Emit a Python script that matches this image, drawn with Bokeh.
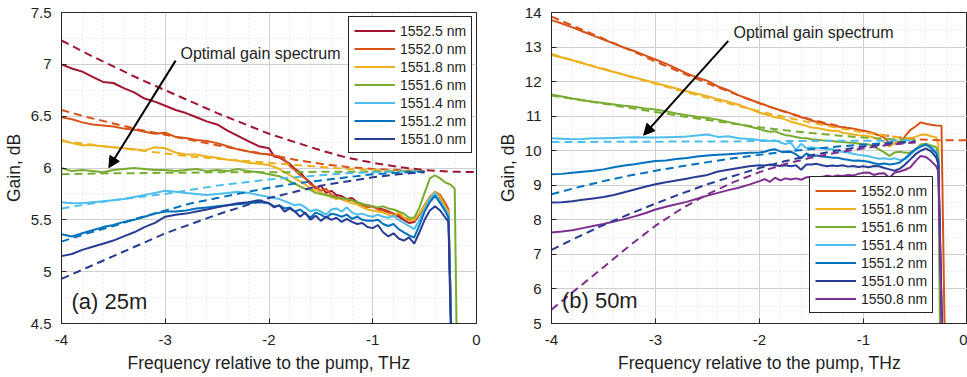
from bokeh.plotting import figure
from bokeh.layouts import row
from bokeh.models import (Range1d, Legend, LegendItem, Arrow, NormalHead, Label,
                          SingleIntervalTicker, CustomJSTickFormatter)
from bokeh.embed import file_html
from bokeh.resources import INLINE

# ---------------- data ----------------
FREQ = [-4.0, -3.9, -3.8, -3.7, -3.6, -3.5, -3.4, -3.3, -3.2, -3.1,
        -3.0, -2.9, -2.8, -2.7, -2.6, -2.5, -2.4, -2.3, -2.2, -2.1,
        -2.0, -1.95, -1.9, -1.85, -1.8, -1.75, -1.7, -1.65, -1.6, -1.55,
        -1.5, -1.45, -1.4, -1.35, -1.3, -1.25, -1.2, -1.15, -1.1, -1.05,
        -1.0, -0.95, -0.9, -0.85, -0.8, -0.75, -0.7, -0.65, -0.6, -0.55,
        -0.5, -0.45, -0.4, -0.35, -0.3]
FREQ_FIT = [-4.0, -3.75, -3.5, -3.25, -3.0, -2.75, -2.5, -2.25, -2.0, -1.75,
            -1.5, -1.25, -1.0, -0.75, -0.5]
FREQ_FIT_EXT = [-0.25, 0.0]

LABELS_A = ["1552.5 nm", "1552.0 nm", "1551.8 nm", "1551.6 nm", "1551.4 nm", "1551.2 nm", "1551.0 nm"]
LABELS_B = ["1552.0 nm", "1551.8 nm", "1551.6 nm", "1551.4 nm", "1551.2 nm", "1551.0 nm", "1550.8 nm"]

# (a) 25 m measured gain, dB
a_1552_5 = [7.00, 6.96, 6.93, 6.88, 6.83, 6.82, 6.77, 6.73, 6.67, 6.64, 6.60, 6.56, 6.53, 6.49, 6.45, 6.42, 6.36, 6.31, 6.26, 6.21,
            6.19, 6.11, 6.10, 6.07, 6.04, 5.99, 5.96, 5.90, 5.86, 5.80, 5.83, 5.76, 5.78, 5.74, 5.73, 5.70, 5.71, 5.67, 5.65, 5.64,
            5.63, 5.61, 5.60, 5.58, 5.56, 5.53, 5.50, 5.47, 5.48, 5.55, 5.62, 5.70, 5.74, 5.70, 5.62]
a_1552_0 = [6.49, 6.47, 6.44, 6.42, 6.41, 6.40, 6.38, 6.37, 6.35, 6.33, 6.34, 6.30, 6.29, 6.27, 6.26, 6.24, 6.21, 6.18, 6.16, 6.14,
            6.13, 6.12, 6.11, 6.08, 6.02, 5.98, 5.93, 5.90, 5.84, 5.82, 5.78, 5.80, 5.74, 5.72, 5.70, 5.68, 5.69, 5.66, 5.64, 5.62,
            5.63, 5.60, 5.59, 5.57, 5.56, 5.55, 5.52, 5.50, 5.49, 5.56, 5.64, 5.72, 5.77, 5.74, 5.66]
a_1551_8 = [6.27, 6.24, 6.22, 6.22, 6.21, 6.20, 6.19, 6.18, 6.17, 6.20, 6.19, 6.15, 6.13, 6.13, 6.11, 6.10, 6.08, 6.07, 6.05, 6.04,
            6.03, 6.01, 5.99, 5.96, 5.93, 5.90, 5.87, 5.84, 5.80, 5.79, 5.76, 5.74, 5.72, 5.70, 5.71, 5.68, 5.66, 5.65, 5.62, 5.60,
            5.59, 5.58, 5.57, 5.55, 5.53, 5.58, 5.52, 5.49, 5.50, 5.56, 5.63, 5.71, 5.77, 5.72, 5.62]
a_1551_6 = [6.00, 5.97, 5.98, 5.97, 5.96, 5.98, 5.99, 6.00, 5.99, 5.98, 5.98, 5.97, 5.98, 5.99, 5.97, 5.98, 5.97, 5.99, 5.97, 5.96,
            5.94, 5.93, 5.92, 5.90, 5.87, 5.85, 5.82, 5.80, 5.79, 5.76, 5.75, 5.74, 5.73, 5.71, 5.71, 5.70, 5.69, 5.67, 5.65, 5.64,
            5.63, 5.62, 5.63, 5.61, 5.60, 5.58, 5.56, 5.52, 5.52, 5.62, 5.76, 5.90, 5.93, 5.90, 5.86]
a_1551_4 = [5.67, 5.66, 5.66, 5.67, 5.68, 5.69, 5.70, 5.72, 5.74, 5.76, 5.78, 5.77, 5.76, 5.75, 5.74, 5.75, 5.76, 5.77, 5.76, 5.74,
            5.72, 5.71, 5.70, 5.68, 5.66, 5.64, 5.65, 5.62, 5.58, 5.60, 5.58, 5.55, 5.60, 5.61, 5.58, 5.62, 5.57, 5.55, 5.56, 5.54,
            5.53, 5.55, 5.53, 5.52, 5.54, 5.50, 5.47, 5.44, 5.41, 5.50, 5.60, 5.70, 5.76, 5.68, 5.60]
a_1551_2 = [5.36, 5.34, 5.37, 5.40, 5.43, 5.45, 5.48, 5.50, 5.53, 5.56, 5.58, 5.58, 5.59, 5.61, 5.62, 5.63, 5.64, 5.65, 5.66, 5.67,
            5.66, 5.63, 5.64, 5.61, 5.62, 5.58, 5.60, 5.56, 5.52, 5.57, 5.55, 5.52, 5.56, 5.55, 5.53, 5.55, 5.51, 5.53, 5.50, 5.49,
            5.49, 5.50, 5.46, 5.44, 5.46, 5.41, 5.38, 5.35, 5.33, 5.45, 5.58, 5.67, 5.73, 5.66, 5.58]
a_1551_0 = [5.15, 5.17, 5.21, 5.24, 5.27, 5.30, 5.34, 5.38, 5.43, 5.47, 5.53, 5.55, 5.56, 5.58, 5.60, 5.62, 5.64, 5.66, 5.67, 5.69,
            5.66, 5.62, 5.64, 5.58, 5.61, 5.58, 5.53, 5.57, 5.50, 5.54, 5.49, 5.53, 5.50, 5.52, 5.48, 5.51, 5.48, 5.46, 5.47, 5.43,
            5.42, 5.45, 5.38, 5.34, 5.37, 5.32, 5.30, 5.33, 5.27, 5.38, 5.50, 5.59, 5.63, 5.59, 5.52]
# cut-off near the pump (frequency, gain)
a_tail_x = [[-0.27, -0.24], [-0.27, -0.24], [-0.27, -0.24], [-0.25, -0.21, -0.19],
            [-0.27, -0.24], [-0.27, -0.24], [-0.27, -0.245]]
a_tail_y = [[5.55, 4.3], [5.60, 4.3], [5.58, 4.3], [5.84, 5.80, 4.3],
            [5.55, 4.3], [5.52, 4.3], [5.48, 4.3]]

# (a) 25 m optimal (fitted) gain spectra, dB
a_fit_1552_5 = [7.23, 7.10, 6.98, 6.86, 6.75, 6.64, 6.53, 6.43, 6.33, 6.25, 6.17, 6.10, 6.05, 6.01, 5.98, 5.965, 5.96]
a_fit_1552_0 = [6.56, 6.49, 6.43, 6.37, 6.32, 6.27, 6.22, 6.17, 6.13, 6.08, 6.04, 6.01, 5.99, 5.98, 5.97]
a_fit_1551_8 = [6.26, 6.23, 6.20, 6.17, 6.14, 6.11, 6.09, 6.07, 6.05, 6.03, 6.01, 5.99, 5.98, 5.97, 5.97]
a_fit_1551_6 = [5.94, 5.945, 5.95, 5.95, 5.955, 5.955, 5.96, 5.96, 5.96, 5.96, 5.965, 5.965, 5.965, 5.97, 5.97]
a_fit_1551_4 = [5.61, 5.65, 5.69, 5.72, 5.75, 5.79, 5.83, 5.86, 5.89, 5.91, 5.93, 5.95, 5.96, 5.965, 5.97]
a_fit_1551_2 = [5.29, 5.37, 5.44, 5.52, 5.59, 5.66, 5.71, 5.76, 5.81, 5.85, 5.88, 5.91, 5.94, 5.955, 5.965]
a_fit_1551_0 = [4.93, 5.04, 5.15, 5.26, 5.37, 5.46, 5.55, 5.63, 5.71, 5.77, 5.83, 5.87, 5.91, 5.94, 5.96]

# (b) 50 m measured gain, dB
b_1552_0 = [13.78, 13.68, 13.57, 13.45, 13.33, 13.22, 13.10, 12.98, 12.88, 12.76, 12.64, 12.52, 12.38, 12.24, 12.12, 12.02, 11.86, 11.75, 11.60, 11.49,
            11.38, 11.33, 11.27, 11.22, 11.17, 11.13, 11.08, 11.02, 10.97, 10.93, 10.87, 10.84, 10.80, 10.76, 10.72, 10.70, 10.68, 10.66, 10.64, 10.61,
            10.58, 10.55, 10.49, 10.45, 10.38, 10.22, 10.32, 10.20, 10.42, 10.60, 10.70, 10.82, 10.78, 10.75, 10.73]
b_1551_8 = [12.77, 12.70, 12.62, 12.53, 12.44, 12.36, 12.28, 12.20, 12.12, 12.04, 11.96, 11.88, 11.80, 11.72, 11.65, 11.58, 11.49, 11.42, 11.33, 11.22,
            11.10, 11.06, 11.01, 10.97, 10.95, 10.90, 10.84, 10.80, 10.76, 10.72, 10.67, 10.66, 10.63, 10.60, 10.57, 10.58, 10.52, 10.50, 10.47, 10.45,
            10.44, 10.42, 10.38, 10.33, 10.25, 10.12, 10.22, 10.28, 10.30, 10.36, 10.40, 10.46, 10.47, 10.42, 10.38]
b_1551_6 = [11.63, 11.57, 11.51, 11.46, 11.42, 11.38, 11.34, 11.30, 11.27, 11.22, 11.19, 11.14, 11.08, 11.03, 10.98, 10.95, 10.90, 10.83, 10.77, 10.70,
            10.63, 10.58, 10.55, 10.56, 10.50, 10.45, 10.43, 10.40, 10.37, 10.36, 10.33, 10.32, 10.30, 10.29, 10.28, 10.26, 10.25, 10.24, 10.23, 10.21,
            10.19, 10.18, 10.12, 10.04, 9.95, 9.85, 9.95, 9.97, 9.94, 9.95, 10.02, 10.18, 10.20, 10.15, 10.10]
b_1551_4 = [10.36, 10.35, 10.33, 10.34, 10.36, 10.36, 10.37, 10.38, 10.39, 10.38, 10.38, 10.39, 10.40, 10.41, 10.44, 10.47, 10.40, 10.42, 10.36, 10.34,
            10.31, 10.30, 10.28, 10.30, 10.24, 10.19, 10.24, 10.02, 10.20, 10.08, 10.10, 10.07, 10.08, 10.04, 10.05, 10.00, 9.96, 9.95, 9.91, 9.88,
            9.86, 9.84, 9.80, 9.77, 9.78, 9.75, 9.78, 9.73, 9.75, 9.88, 10.02, 10.12, 10.18, 10.10, 9.98]
b_1551_2 = [9.32, 9.33, 9.36, 9.39, 9.42, 9.46, 9.52, 9.57, 9.61, 9.66, 9.70, 9.72, 9.76, 9.79, 9.83, 9.86, 9.88, 9.90, 9.92, 9.94,
            9.95, 9.97, 10.02, 10.04, 9.98, 9.96, 9.97, 9.90, 9.78, 9.92, 9.85, 9.86, 9.83, 9.82, 9.80, 9.80, 9.76, 9.74, 9.71, 9.72,
            9.70, 9.68, 9.64, 9.61, 9.63, 9.60, 9.62, 9.66, 9.78, 9.92, 10.05, 10.12, 10.18, 10.08, 9.92]
b_1551_0 = [8.50, 8.51, 8.54, 8.58, 8.62, 8.66, 8.72, 8.80, 8.88, 8.96, 9.03, 9.09, 9.14, 9.19, 9.25, 9.30, 9.40, 9.45, 9.50, 9.55,
            9.58, 9.57, 9.60, 9.58, 9.56, 9.58, 9.55, 9.58, 9.45, 9.60, 9.60, 9.62, 9.58, 9.55, 9.57, 9.56, 9.58, 9.54, 9.56, 9.53,
            9.55, 9.52, 9.56, 9.55, 9.50, 9.46, 9.42, 9.48, 9.60, 9.75, 9.90, 10.00, 10.07, 9.98, 9.80]
b_1550_8 = [7.63, 7.66, 7.70, 7.76, 7.82, 7.88, 7.95, 8.02, 8.10, 8.19, 8.30, 8.38, 8.45, 8.52, 8.61, 8.70, 8.78, 8.86, 8.93, 9.02,
            9.12, 9.18, 9.10, 9.22, 9.14, 9.20, 9.17, 9.20, 9.16, 9.23, 9.23, 9.18, 9.24, 9.28, 9.25, 9.28, 9.27, 9.30, 9.28, 9.33,
            9.36, 9.37, 9.30, 9.34, 9.35, 9.22, 9.37, 9.40, 9.45, 9.52, 9.70, 9.85, 9.82, 9.70, 9.55]
b_tail_x = [[-0.25, -0.22], [-0.28, -0.26], [-0.28, -0.265], [-0.28, -0.25],
            [-0.28, -0.245], [-0.28, -0.245], [-0.28, -0.245]]
b_tail_y = [[10.72, 4.8], [10.15, 4.8], [9.90, 4.8], [9.75, 4.8],
            [9.70, 4.8], [9.60, 4.8], [9.40, 4.8]]

# (b) 50 m optimal (fitted) gain spectra, dB
b_fit_1552_0 = [13.88, 13.56, 13.24, 12.92, 12.58, 12.26, 11.95, 11.66, 11.37, 11.12, 10.90, 10.72, 10.56, 10.42, 10.33, 10.30, 10.30]
b_fit_1551_8 = [12.80, 12.58, 12.37, 12.15, 11.94, 11.73, 11.53, 11.33, 11.14, 10.97, 10.81, 10.66, 10.53, 10.42, 10.34]
b_fit_1551_6 = [11.60, 11.48, 11.36, 11.24, 11.12, 11.00, 10.89, 10.78, 10.68, 10.59, 10.51, 10.44, 10.38, 10.34, 10.31]
b_fit_1551_4 = [10.25, 10.25, 10.26, 10.26, 10.26, 10.27, 10.27, 10.27, 10.28, 10.28, 10.28, 10.29, 10.29, 10.29, 10.30]
b_fit_1551_2 = [8.74, 8.94, 9.12, 9.28, 9.42, 9.55, 9.67, 9.78, 9.88, 9.97, 10.05, 10.12, 10.18, 10.23, 10.27]
b_fit_1551_0 = [7.13, 7.50, 7.85, 8.17, 8.47, 8.76, 9.03, 9.27, 9.50, 9.70, 9.87, 10.01, 10.12, 10.20, 10.26]
b_fit_1550_8 = [5.40, 6.02, 6.63, 7.25, 7.83, 8.32, 8.74, 9.09, 9.38, 9.62, 9.80, 9.95, 10.07, 10.17, 10.24]

COLORS_A = ["#A2142F", "#D95319", "#EDB120", "#77AC30", "#4DBEEE", "#0072BD", "#283C96"]
COLORS_B = ["#D95319", "#EDB120", "#77AC30", "#4DBEEE", "#0072BD", "#283C96", "#7E2F8E"]

A_MEAS = [a_1552_5, a_1552_0, a_1551_8, a_1551_6, a_1551_4, a_1551_2, a_1551_0]
A_FIT = [a_fit_1552_5, a_fit_1552_0, a_fit_1551_8, a_fit_1551_6, a_fit_1551_4, a_fit_1551_2, a_fit_1551_0]
B_MEAS = [b_1552_0, b_1551_8, b_1551_6, b_1551_4, b_1551_2, b_1551_0, b_1550_8]
B_FIT = [b_fit_1552_0, b_fit_1551_8, b_fit_1551_6, b_fit_1551_4, b_fit_1551_2, b_fit_1551_0, b_fit_1550_8]

FONT = "Liberation Sans"
TXT = "#1e1e1e"
AX = "#262626"


def make_fig(width, bl, br, bt, y0, y1, yint, yminor):
    p = figure(width=width, height=377, output_backend="svg", toolbar_location=None,
               x_range=Range1d(-4, 0), y_range=Range1d(y0, y1),
               min_border_left=bl, min_border_right=br, min_border_top=bt,
               min_border_bottom=54, background_fill_color="white",
               border_fill_color="white")
    p.xaxis.ticker = SingleIntervalTicker(interval=1, num_minor_ticks=5)
    p.yaxis.ticker = SingleIntervalTicker(interval=yint, num_minor_ticks=yminor)
    fmt = "return (Math.round(tick*100)/100).toString();"
    for ax in (p.xaxis[0], p.yaxis[0]):
        ax.formatter = CustomJSTickFormatter(code=fmt)
        ax.major_tick_in = 5
        ax.major_tick_out = 0
        ax.minor_tick_line_color = None
        ax.axis_line_color = AX
        ax.major_tick_line_color = AX
        ax.major_label_text_font = FONT
        ax.major_label_text_font_size = "15px"
        ax.major_label_text_color = TXT
        ax.axis_label_text_font = FONT
        ax.axis_label_text_font_size = "17.5px"
        ax.axis_label_text_font_style = "normal"
        ax.axis_label_text_color = TXT
    p.xaxis.axis_label = "Frequency relative to the pump, THz"
    p.yaxis.axis_label = "Gain, dB"
    p.xaxis.major_label_standoff = 7
    p.xaxis.axis_label_standoff = 5
    p.yaxis.major_label_standoff = 6
    p.yaxis.axis_label_standoff = 4
    for g in (p.xgrid[0], p.ygrid[0]):
        g.grid_line_color = "#cfcfcf"
        g.grid_line_width = 1
        g.minor_grid_line_color = "#d6d6d6"
        g.minor_grid_line_dash = "1 3"
    p.outline_line_color = AX
    p.outline_line_alpha = 1
    return p


def draw(p, meas, fits, tails_x, tails_y, colors, labels, ext_index, loc):
    items = []
    for i, (ys, col, lab) in enumerate(zip(meas, colors, labels)):
        assert len(ys) == len(FREQ), (lab, len(ys))
        r = p.line(FREQ + tails_x[i], ys + tails_y[i], line_color=col, line_width=2)
        items.append(LegendItem(label=lab, renderers=[r]))
    for i, (ys, col) in enumerate(zip(fits, colors)):
        xs = FREQ_FIT + (FREQ_FIT_EXT if i == ext_index else [])
        assert len(xs) == len(ys), (i, len(ys))
        p.line(xs, ys, line_color=col, line_width=2, line_dash="8 5")
    leg = Legend(items=items, location=loc, label_text_font=FONT,
                 label_text_font_size="14px", label_text_color=TXT,
                 glyph_width=41, glyph_height=17, label_height=17, spacing=1,
                 padding=5, margin=0, label_standoff=5,
                 border_line_color=AX, border_line_width=1, border_line_alpha=1,
                 background_fill_color="white", background_fill_alpha=1)
    p.add_layout(leg)


# ---------------- panel (a) ----------------
pa = make_fig(487, 61, 11, 11, 4.5, 7.5, 0.5, 2)
draw(pa, A_MEAS, A_FIT, a_tail_x, a_tail_y, COLORS_A, LABELS_A, 0, (287, 170))
pa.add_layout(Arrow(end=NormalHead(size=11, fill_color="black", line_color="black"),
                    x_start=-2.90, y_start=7.036, x_end=-3.544, y_end=6.003,
                    line_color="black", line_width=2))
pa.add_layout(Label(x=-2.853, y=7.106, text="Optimal gain spectrum", text_font=FONT,
                    text_font_size="16px", text_color=TXT, text_baseline="middle"))
pa.add_layout(Label(x=-3.904, y=4.71, text="(a) 25m", text_font=FONT,
                    text_font_size="22px", text_color=TXT, text_baseline="middle"))

# ---------------- panel (b) ----------------
pb = make_fig(480, 64, 0, 12, 5, 14, 1, 2)
draw(pb, B_MEAS, B_FIT, b_tail_x, b_tail_y, COLORS_B, LABELS_B, 0, (258, 10))
pb.add_layout(Arrow(end=NormalHead(size=11, fill_color="black", line_color="black"),
                    x_start=-2.30, y_start=13.18, x_end=-3.114, y_end=10.45,
                    line_color="black", line_width=2))
pb.add_layout(Label(x=-2.25, y=13.42, text="Optimal gain spectrum", text_font=FONT,
                    text_font_size="16px", text_color=TXT, text_baseline="middle"))
pb.add_layout(Label(x=-3.90, y=5.67, text="(b) 50m", text_font=FONT,
                    text_font_size="22px", text_color=TXT, text_baseline="middle"))

layout = row(pa, pb)
open("out.html", "w").write(file_html(layout, INLINE))
